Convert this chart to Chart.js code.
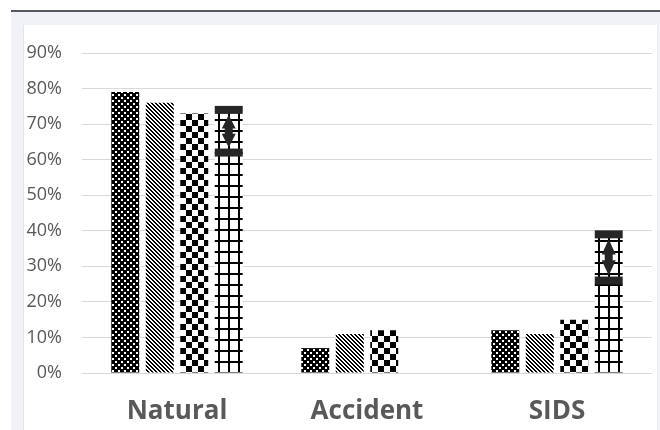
<!DOCTYPE html>
<html>
<head>
<meta charset="utf-8">
<script src="https://cdn.jsdelivr.net/npm/chart.js@4/dist/chart.umd.min.js"></script>
<style>
  html, body { margin: 0; padding: 0; background: #ffffff; }
  #frame { position: absolute; left: 11px; top: 10px; width: 649px; height: 420px;
           border-top: 2px solid #555a60; background: #f1f2f7; box-sizing: border-box; }
  #panel { position: absolute; left: 23px; top: 25px; width: 635px; height: 405px;
           background: #ffffff; border-left: 1px solid #e2e3e8; border-right: 1px solid #ebecef; box-sizing: border-box; }
  #wrap { position: absolute; left: 0; top: 0; width: 660px; height: 430px; }
</style>
</head>
<body>
<div id="frame"></div>
<div id="panel"></div>
<div id="wrap"><canvas id="c" width="660" height="430"></canvas></div>
<script>
// ---- data ----
const categories = ["Natural", "Accident", "SIDS"];
const seriesDots    = [0.79, 0.07, 0.12];
const seriesStripes = [0.76, 0.11, 0.11];
const seriesChecker = [0.73, 0.12, 0.15];
const seriesGrid    = [0.74, null, 0.39];
const rangeHigh     = [0.74, null, 0.39];
const rangeLow      = [0.62, null, 0.26];
const yTicks        = [0, 0.1, 0.2, 0.3, 0.4, 0.5, 0.6, 0.7, 0.8, 0.9];

// ---- patterns ----
function makePattern(w, h, draw) {
  const c = document.createElement('canvas');
  c.width = w; c.height = h;
  const g = c.getContext('2d');
  draw(g);
  return g.createPattern(c, 'repeat');
}
const ctx0 = document.getElementById('c').getContext('2d');
const patDots = makePattern(6, 6, g => {
  g.fillStyle = '#000'; g.fillRect(0, 0, 6, 6);
  g.fillStyle = '#fff'; g.fillRect(1, 1, 2, 2); g.fillRect(4, 4, 2, 2);
});
const patStripes = makePattern(4, 4, g => {
  g.fillStyle = '#fff'; g.fillRect(0, 0, 4, 4);
  g.fillStyle = '#000';
  for (let y = 0; y < 4; y++) { g.fillRect(y % 4, y, 1, 1); g.fillRect((y + 1) % 4, y, 1, 1); }
});
const patChecker = makePattern(12, 12, g => {
  g.fillStyle = '#fff'; g.fillRect(0, 0, 12, 12);
  g.fillStyle = '#000'; g.fillRect(0, 0, 6, 6); g.fillRect(6, 6, 6, 6);
});
const patGrid = makePattern(10, 11, g => {
  g.fillStyle = '#fff'; g.fillRect(0, 0, 10, 11);
  g.fillStyle = '#000'; g.fillRect(8, 0, 2, 11); g.fillRect(0, 9, 10, 2);
});

const rangePlugin = {
  id: 'rangeMarks',
  afterDatasetsDraw(chart) {
    const meta = chart.getDatasetMeta(3);
    const y = chart.scales.y;
    const ctx = chart.ctx;
    ctx.save();
    ctx.fillStyle = '#262626';
    rangeHigh.forEach((hi, i) => {
      const lo = rangeLow[i];
      if (hi == null || lo == null) return;
      const bar = meta.data[i];
      const w = bar.width;
      const x = bar.x;
      const yh = y.getPixelForValue(hi), yl = y.getPixelForValue(lo);
      const th = 8;
      ctx.fillRect(x - w / 2, yh - th / 2, w, th);
      ctx.fillRect(x - w / 2, yl - th / 2, w, th);
      // double arrow
      const top = yh + th / 2 + 1, bot = yl - th / 2 - 1;
      const hw = 7, sw = 4, head = (bot - top) * 0.42;
      ctx.beginPath();
      ctx.moveTo(x, top);
      ctx.lineTo(x + hw, top + head);
      ctx.lineTo(x + sw, top + head);
      ctx.lineTo(x + sw, bot - head);
      ctx.lineTo(x + hw, bot - head);
      ctx.lineTo(x, bot);
      ctx.lineTo(x - hw, bot - head);
      ctx.lineTo(x - sw, bot - head);
      ctx.lineTo(x - sw, top + head);
      ctx.lineTo(x - hw, top + head);
      ctx.closePath();
      ctx.fill();
    });
    ctx.restore();
  }
};

new Chart(ctx0, {
  type: 'bar',
  data: {
    labels: categories,
    datasets: [
      { data: seriesDots, backgroundColor: patDots },
      { data: seriesStripes, backgroundColor: patStripes },
      { data: seriesChecker, backgroundColor: patChecker },
      { data: seriesGrid, backgroundColor: patGrid }
    ]
  },
  options: {
    responsive: false,
    animation: false,
    layout: { padding: { top: 53, right: 8, left: 0, bottom: 0 } },
    datasets: { bar: { categoryPercentage: 0.726, barPercentage: 0.81, borderWidth: 0 } },
    plugins: { legend: { display: false }, tooltip: { enabled: false } },
    scales: {
      x: {
        grid: { display: false, drawTicks: false },
        border: { display: false },
        ticks: { color: '#595959', padding: 23, font: { family: 'Open Sans', size: 26, weight: 'bold' } },
        afterFit(s) { s.height = 57; }
      },
      y: {
        min: 0, max: 0.9,
        afterBuildTicks(s) { s.ticks = yTicks.map(v => ({ value: v })); },
        grid: { color: '#d9d9d9', lineWidth: 1, drawTicks: false },
        border: { display: false },
        ticks: {
          color: '#595959', padding: 20,
          font: { family: 'Open Sans', size: 18 },
          callback: v => Math.round(v * 100) + '%'
        },
        afterFit(s) { s.width = 82; }
      }
    }
  },
  plugins: [rangePlugin]
});
</script>
</body>
</html>
